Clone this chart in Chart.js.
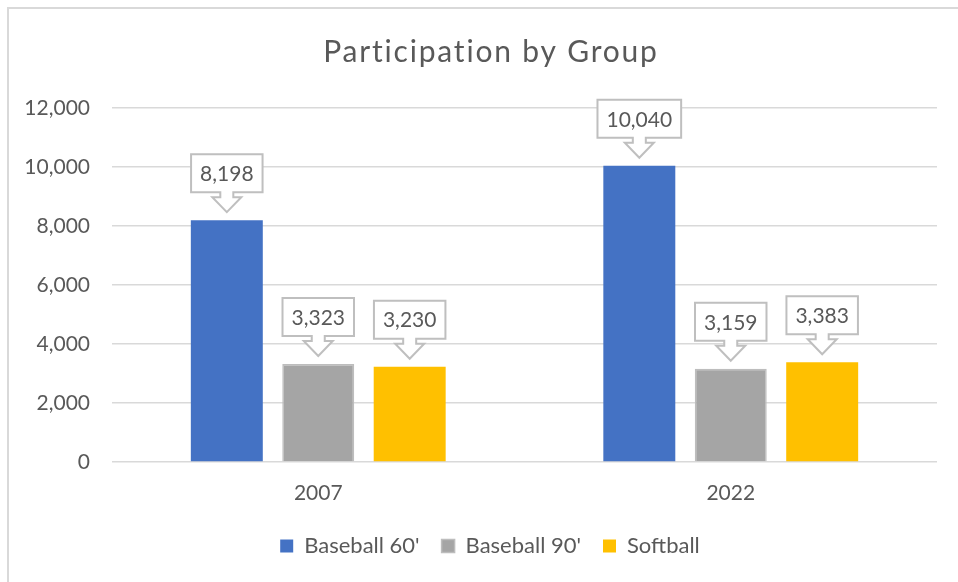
<!DOCTYPE html>
<html>
<head>
<meta charset="utf-8">
<title>Participation by Group</title>
<script src="https://cdn.jsdelivr.net/npm/chart.js@4"></script>
<style>
  body { margin: 0; background: #ffffff; }
  canvas { display: block; }
</style>
</head>
<body>
<canvas id="groupChart" width="958" height="582"></canvas>
<script>
// Chart data
const chartTitle = 'Participation by Group';
const years = ['2007', '2022'];
const seriesNames = ["Baseball 60'", "Baseball 90'", 'Softball'];
const baseball60 = [8198, 10040];
const baseball90 = [3323, 3159];
const softball = [3230, 3383];
const yTicks = [0, 2000, 4000, 6000, 8000, 10000, 12000];

const textColor = '#595959';
const fontFamily = 'Lato, "Open Sans", sans-serif';

// Light frame around the chart (only left/top edges fall inside the picture)
const framePlugin = {
  id: 'frame',
  // the original chart is wider than the picture, so its legend sits right of canvas centre
  afterLayout(chart) {
    chart.legend.left += 43;
  },
  beforeDraw(chart) {
    const ctx = chart.ctx;
    ctx.save();
    ctx.fillStyle = '#ffffff';
    ctx.fillRect(0, 0, chart.width, chart.height);
    ctx.strokeStyle = '#D9D9D9';
    ctx.lineWidth = 2;
    ctx.strokeRect(8, 8, 1000, 1000);
    ctx.restore();
  },
  // title drawn by hand so it can get a bit of letter spacing
  afterDraw(chart) {
    const ctx = chart.ctx;
    ctx.save();
    ctx.font = '30px ' + fontFamily;
    ctx.fillStyle = textColor;
    ctx.textAlign = 'center';
    ctx.textBaseline = 'alphabetic';
    if ('letterSpacing' in ctx) ctx.letterSpacing = '1.8px';
    ctx.fillText(chartTitle, 491, 62);
    ctx.restore();
  }
};

// Callout style data labels above every bar
const calloutPlugin = {
  id: 'callouts',
  afterDatasetsDraw(chart) {
    const ctx = chart.ctx;
    ctx.save();
    ctx.font = '21px ' + fontFamily;
    ctx.textAlign = 'center';
    ctx.textBaseline = 'middle';
    chart.data.datasets.forEach((ds, i) => {
      const meta = chart.getDatasetMeta(i);
      meta.data.forEach((bar, j) => {
        const label = ds.data[j].toLocaleString('en-US');
        const x = bar.x;
        const y = bar.y;
        const w = ctx.measureText(label).width + 18;
        const left = x - w / 2;
        const right = x + w / 2;
        const bottom = y - 28;
        const top = bottom - 38;
        const tip = y - 8;

        ctx.beginPath();
        ctx.moveTo(left, top);
        ctx.lineTo(right, top);
        ctx.lineTo(right, bottom);
        ctx.lineTo(x + 6.5, bottom);
        ctx.lineTo(x + 6.5, bottom + 5);
        ctx.lineTo(x + 14.5, bottom + 5);
        ctx.lineTo(x, tip);
        ctx.lineTo(x - 14.5, bottom + 5);
        ctx.lineTo(x - 6.5, bottom + 5);
        ctx.lineTo(x - 6.5, bottom);
        ctx.lineTo(left, bottom);
        ctx.closePath();
        ctx.fillStyle = '#ffffff';
        ctx.fill();
        ctx.strokeStyle = '#BFBFBF';
        ctx.lineWidth = 2;
        ctx.stroke();

        ctx.fillStyle = textColor;
        ctx.fillText(label, x, (top + bottom) / 2 + 1);
      });
    });
    ctx.restore();
  }
};

const chart = new Chart(document.getElementById('groupChart'), {
  type: 'bar',
  data: {
    labels: years,
    datasets: [
      {
        label: seriesNames[0],
        data: baseball60,
        backgroundColor: '#4472C4',
        borderColor: '#4472C4',
        borderWidth: 0
      },
      {
        label: seriesNames[1],
        data: baseball90,
        backgroundColor: '#A5A5A5',
        borderColor: '#BDBDBD',
        borderWidth: 1.5
      },
      {
        label: seriesNames[2],
        data: softball,
        backgroundColor: '#FFC000',
        borderColor: '#FFC000',
        borderWidth: 0
      }
    ]
  },
  options: {
    responsive: false,
    animation: false,
    categoryPercentage: 0.665,
    barPercentage: 0.787,
    layout: {
      padding: { left: 0, right: 21, top: 108, bottom: 15 }
    },
    plugins: {
      title: { display: false },
      legend: {
        position: 'bottom',
        labels: {
          color: textColor,
          font: { family: fontFamily, size: 22 },
          boxWidth: 13,
          boxHeight: 13,
          padding: 22
        }
      },
      tooltip: { enabled: false }
    },
    scales: {
      x: {
        afterFit(scale) { scale.height = 51; },
        grid: { display: false, drawTicks: false },
        border: { display: false },
        ticks: {
          color: textColor,
          font: { family: fontFamily, size: 21 },
          padding: 19
        }
      },
      y: {
        min: 0,
        max: 12000,
        afterFit(scale) { scale.width = 112; },
        afterBuildTicks(scale) {
          scale.ticks = yTicks.map(v => ({ value: v }));
        },
        grid: { color: '#D9D9D9', lineWidth: 1.5, drawTicks: false },
        border: { display: false },
        ticks: {
          color: textColor,
          font: { family: fontFamily, size: 21 },
          padding: 22,
          callback: v => v.toLocaleString('en-US')
        }
      }
    }
  },
  plugins: [framePlugin, calloutPlugin]
});
</script>
</body>
</html>
